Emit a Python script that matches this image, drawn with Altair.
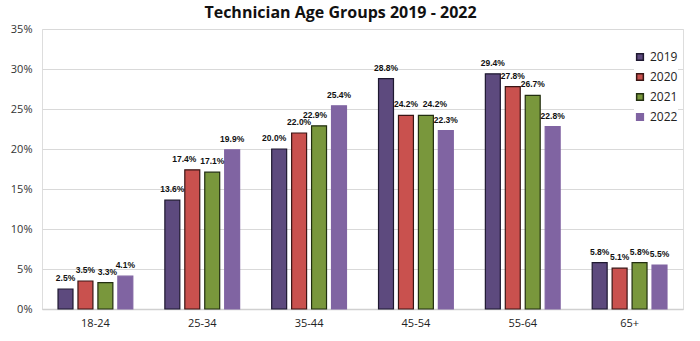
import altair as alt
import pandas as pd

groups = ["18-24", "25-34", "35-44", "45-54", "55-64", "65+"]
years = ["2019", "2020", "2021", "2022"]
v2019 = [2.5, 13.6, 20.0, 28.8, 29.4, 5.8]
v2020 = [3.5, 17.4, 22.0, 24.2, 27.8, 5.1]
v2021 = [3.3, 17.1, 22.9, 24.2, 26.7, 5.8]
v2022 = [4.1, 19.9, 25.4, 22.3, 22.8, 5.5]
colors = ["#5d4a7e", "#c9514e", "#79973c", "#8064a2"]
strokes = ["#1e1830", "#3a1514", "#222e10", "#8064a2"]

rows = []
for yr, vals in zip(years, [v2019, v2020, v2021, v2022]):
    for g, v in zip(groups, vals):
        rows.append({"group": g, "year": yr, "value": v / 100.0, "label": f"{v:.1f}%"})
df = pd.DataFrame(rows)

x = alt.X("group:N", sort=groups, title=None,
          scale=alt.Scale(paddingInner=0.3, paddingOuter=0.15),
          axis=alt.Axis(labelAngle=0, ticks=False, domainColor="#d0d0d0", domainWidth=1.5,
                        labelFont="Open Sans", labelFontSize=11, labelColor="#222",
                        labelPadding=8))
xo = alt.XOffset("year:N", sort=years, scale=alt.Scale(paddingInner=0.25))
y = alt.Y("value:Q", title=None,
          scale=alt.Scale(domain=[0, 0.35]),
          axis=alt.Axis(format=".0%", values=[0, 0.05, 0.1, 0.15, 0.2, 0.25, 0.3, 0.35],
                        domain=False, ticks=False, gridColor="#d9d9d9", gridWidth=1.2,
                        labelFont="Open Sans", labelFontSize=11, labelColor="#333",
                        labelPadding=10))

bars = alt.Chart(df).mark_bar(strokeWidth=1.2).encode(
    x=x, xOffset=xo, y=y,
    color=alt.Color("year:N", sort=years,
                    scale=alt.Scale(domain=years, range=colors),
                    legend=alt.Legend(title=None, orient="none", legendX=592, legendY=22,
                                      symbolType="square", symbolSize=45,
                                      labelFont="Open Sans", labelFontSize=12,
                                      labelColor="#222", rowPadding=6,
                                      fillColor="white")),
    stroke=alt.Stroke("year:N", sort=years,
                      scale=alt.Scale(domain=years, range=strokes), legend=None),
)

# label nudges (style): (group, year, dx)
nudges = [("25-34", "2020", -8), ("45-54", "2021", 9), ("35-44", "2019", -5),
          ("35-44", "2021", -4), ("18-24", "2021", 2)]

def is_nudged(g, yr):
    return (alt.datum.group == g) & (alt.datum.year == yr)

base_filter = None
for g, yr, _ in nudges:
    f = is_nudged(g, yr)
    base_filter = f if base_filter is None else (base_filter | f)

text_kw = dict(baseline="bottom", dy=-6, font="Liberation Sans",
               fontWeight="bold", fontSize=8.5, color="#111")

label_layers = [
    alt.Chart(df).transform_filter(~base_filter).mark_text(**text_kw).encode(
        x=x, xOffset=xo, y=y, text="label:N")
]
for g, yr, dx in nudges:
    label_layers.append(
        alt.Chart(df).transform_filter(is_nudged(g, yr)).mark_text(dx=dx, **text_kw).encode(
            x=x, xOffset=xo, y=y, text="label:N"))

chart = alt.layer(bars, *label_layers).properties(
    width=641, height=280,
    title=alt.TitleParams("Technician Age Groups 2019 - 2022", font="Open Sans",
                          fontSize=16, fontWeight="bold", color="#111",
                          anchor="middle", dx=-22, offset=2),
    autosize=alt.AutoSizeParams(type="none"),
    padding={"left": 42, "top": 29, "right": 17, "bottom": 32},
).configure_view(stroke=None).configure(background="white")

chart.save("out.html", embed_options={"renderer": "svg", "actions": False})
